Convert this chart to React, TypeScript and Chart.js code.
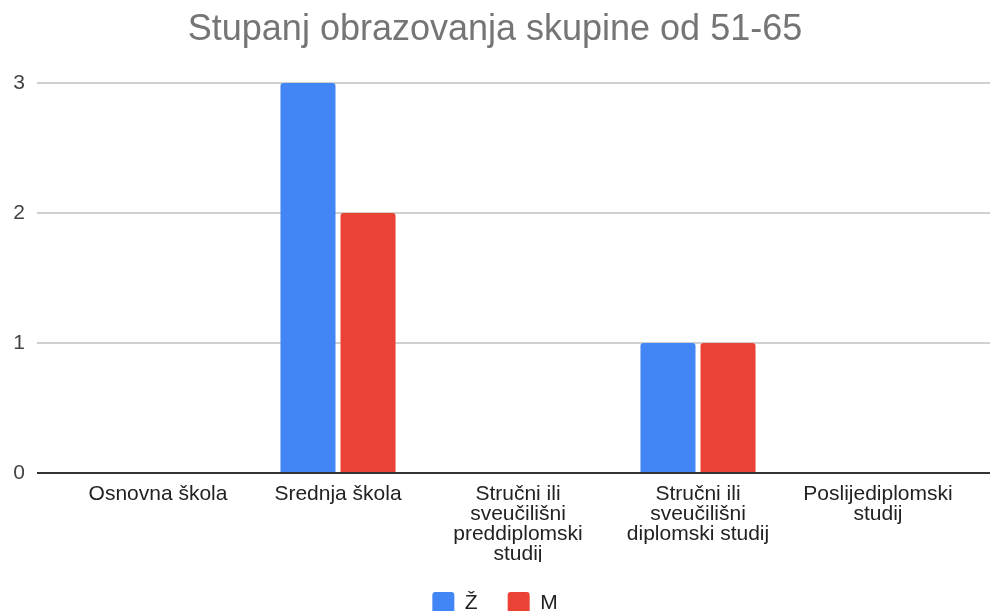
import React, { useEffect, useRef } from "react";
import { Chart, registerables } from "chart.js";

Chart.register(...registerables);

const TITLE = "Stupanj obrazovanja skupine od 51-65";
const CATEGORIES: string[][] = [
  ["Osnovna škola"],
  ["Srednja škola"],
  ["Stručni ili", "sveučilišni", "preddiplomski", "studij"],
  ["Stručni ili", "sveučilišni", "diplomski studij"],
  ["Poslijediplomski", "studij"],
];
const SERIES_NAMES = ["Ž", "M"];
const ZENE = [0, 3, 0, 1, 0];
const MUSKARCI = [0, 2, 0, 1, 0];
const Y_MIN = 0;
const Y_MAX = 3;
const Y_STEP = 1;

const FONT = "'Liberation Sans', Arial, sans-serif";
const GRID = "#d0d0d0";
const BASE = "#333333";

export default function App() {
  const ref = useRef<HTMLCanvasElement | null>(null);

  useEffect(() => {
    if (!ref.current) return;
    const gridColor = (c: any) => (c.tick && c.tick.value === 0 ? BASE : GRID);
    const chart = new Chart(ref.current, {
      type: "bar",
      data: {
        labels: CATEGORIES as any,
        datasets: [
          {
            label: SERIES_NAMES[0],
            data: ZENE,
            backgroundColor: "#4285F4",
            borderRadius: 3,
            borderSkipped: "start",
            categoryPercentage: 0.667,
            barPercentage: 0.917,
          },
          {
            label: SERIES_NAMES[1],
            data: MUSKARCI,
            backgroundColor: "#EA4335",
            borderRadius: 3,
            borderSkipped: "start",
            categoryPercentage: 0.667,
            barPercentage: 0.917,
          },
        ],
      },
      options: {
        responsive: false,
        animation: false,
        layout: { padding: { top: 0, left: 0, right: 0, bottom: -13 } },
        plugins: {
          title: {
            display: true,
            text: TITLE,
            color: "#757575",
            font: { family: FONT, size: 36, weight: "normal", lineHeight: "42px" },
            padding: { top: 9, bottom: 32 },
          },
          legend: {
            display: true,
            position: "bottom",
            labels: {
              color: "#222222",
              font: { family: FONT, size: 21 },
              boxWidth: 22,
              boxHeight: 22,
              padding: 30,
              useBorderRadius: true,
              borderRadius: 3,
            },
          },
          tooltip: { enabled: false },
        },
        scales: {
          x: {
            grid: { display: false, drawTicks: false },
            border: { display: true, color: BASE, width: 2 },
            ticks: {
              color: "#222222",
              font: { family: FONT, size: 21, lineHeight: "20px" },
              padding: 11,
              maxRotation: 0,
              autoSkip: false,
            },
            afterFit: (s: any) => {
              s.height = 89;
            },
          },
          y: {
            position: "left",
            min: Y_MIN,
            max: Y_MAX,
            grid: { color: gridColor, lineWidth: 2, tickLength: 31, drawTicks: true },
            border: { display: false },
            ticks: {
              stepSize: Y_STEP,
              color: "#444444",
              font: { family: FONT, size: 21 },
              padding: 12,
            },
            afterFit: (s: any) => {
              s.width = 68;
            },
          },
          y2: {
            position: "right",
            min: Y_MIN,
            max: Y_MAX,
            grid: { color: gridColor, lineWidth: 2, tickLength: 22, drawTicks: true, drawOnChartArea: false },
            border: { display: false },
            ticks: { stepSize: Y_STEP, display: false },
            afterFit: (s: any) => {
              s.width = 22;
            },
          },
        },
      },
    });
    return () => chart.destroy();
  }, []);

  return (
    <div style={{ position: "fixed", left: 0, top: 0, width: 990, height: 611, background: "#fff" }}>
      <canvas ref={ref} width={990} height={611} style={{ display: "block" }} />
    </div>
  );
}
